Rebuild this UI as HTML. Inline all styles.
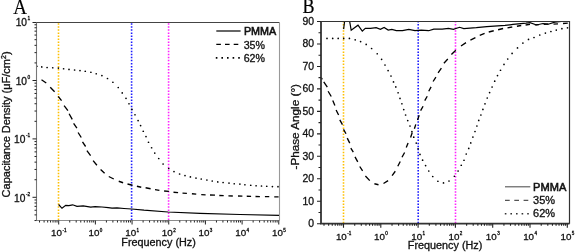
<!DOCTYPE html><html><head><meta charset="utf-8"><style>html,body{margin:0;padding:0;background:#fff;}svg{display:block;will-change:transform;}text{font-family:"Liberation Sans", sans-serif;fill:#111;stroke:#111;stroke-width:0.3px;}</style></head><body>
<svg width="575" height="252" viewBox="0 0 575 252">
<rect width="575" height="252" fill="#fff"/>
<defs><clipPath id="ca"><rect x="36.5" y="22.5" width="243.0" height="198.0"/></clipPath><clipPath id="cb"><rect x="321.0" y="21.5" width="248.5" height="202.2"/></clipPath></defs>
<text transform="translate(13.3,13.6) scale(0.95,1)" style="font-family:'Liberation Serif', serif;font-size:20px;fill:#000;stroke:#000;stroke-width:0.2px">A</text>
<line x1="58.50" y1="23.25" x2="58.50" y2="220.20" stroke="#ffc000" stroke-width="1.6" stroke-dasharray="1.5 1.552" fill="none"/>
<line x1="131.60" y1="23.25" x2="131.60" y2="220.20" stroke="#1a1aff" stroke-width="1.6" stroke-dasharray="1.5 1.552" fill="none"/>
<line x1="168.60" y1="23.25" x2="168.60" y2="220.20" stroke="#ff22ff" stroke-width="1.6" stroke-dasharray="1.5 1.552" fill="none"/>
<g clip-path="url(#ca)" fill="none" stroke="#000">
<path d="M58.60,204.50 L62.00,208.30 L65.70,205.40 L68.90,205.70 L72.60,204.80 L77.00,206.40 L83.20,205.80 L90.70,207.10 L95.10,206.70 L102.00,207.00 L108.20,207.60 L112.00,208.10 L117.00,207.90 L124.00,208.50 L131.70,209.00 L144.00,210.20 L168.00,212.00 L200.00,213.30 L240.00,214.50 L279.50,215.30" stroke-width="1.2"/>
<path d="M41.50,79.75 L46.25,83.00 M50.25,87.25 L54.60,91.75 M58.20,96.30 L61.55,100.70 M64.10,105.60 L67.90,110.60 M69.10,113.75 L72.25,119.40 M73.60,123.40 L76.90,128.10 M78.10,132.50 L81.25,137.50 M82.50,141.90 L85.60,146.50 M86.90,150.60 L90.60,155.60 M93.10,160.60 L96.90,165.25 M100.60,169.40 L104.60,173.20 M108.75,176.50 L113.75,179.00 M118.75,181.25 L123.10,182.75 M127.50,184.00 L132.50,185.25 M136.90,186.25 L141.25,187.25 M145.60,187.75 L150.60,188.75 M155.00,189.60 L159.40,190.40 M164.10,191.00 L168.90,191.40 M173.50,192.25 L178.10,192.60 M182.50,193.10 L186.90,193.40 M191.90,193.75 L196.25,194.10 M201.25,194.60 L205.60,194.80 M210.00,195.00 L215.00,195.20 M219.30,195.50 L223.70,195.60 M228.40,195.90 L232.80,196.00 M238.00,196.00 L242.40,196.10 M246.75,196.25 L251.10,196.30 M255.50,196.50 L259.90,196.60 M264.90,196.60 L269.25,196.70 M274.25,196.90 L278.60,196.90" stroke-width="1.35"/>
<g fill="#000" stroke="none"><circle cx="36.90" cy="66.25" r="0.85"/><circle cx="41.75" cy="66.90" r="0.85"/><circle cx="47.10" cy="67.50" r="0.85"/><circle cx="52.75" cy="67.75" r="0.85"/><circle cx="58.40" cy="68.10" r="0.85"/><circle cx="63.60" cy="68.75" r="0.85"/><circle cx="69.00" cy="69.40" r="0.85"/><circle cx="74.60" cy="70.00" r="0.85"/><circle cx="80.00" cy="70.60" r="0.85"/><circle cx="85.25" cy="71.25" r="0.85"/><circle cx="90.90" cy="72.25" r="0.85"/><circle cx="96.25" cy="73.75" r="0.85"/><circle cx="101.90" cy="75.60" r="0.85"/><circle cx="107.50" cy="78.50" r="0.85"/><circle cx="112.90" cy="82.25" r="0.85"/><circle cx="118.25" cy="87.50" r="0.85"/><circle cx="122.25" cy="92.90" r="0.85"/><circle cx="126.00" cy="98.30" r="0.85"/><circle cx="129.00" cy="103.75" r="0.85"/><circle cx="131.90" cy="109.40" r="0.85"/><circle cx="135.00" cy="114.75" r="0.85"/><circle cx="138.10" cy="120.60" r="0.85"/><circle cx="140.60" cy="125.60" r="0.85"/><circle cx="143.25" cy="131.25" r="0.85"/><circle cx="146.00" cy="136.60" r="0.85"/><circle cx="148.50" cy="142.25" r="0.85"/><circle cx="151.60" cy="147.75" r="0.85"/><circle cx="154.75" cy="153.10" r="0.85"/><circle cx="158.75" cy="158.50" r="0.85"/><circle cx="163.10" cy="164.00" r="0.85"/><circle cx="168.75" cy="168.50" r="0.85"/><circle cx="174.00" cy="171.55" r="0.85"/><circle cx="179.60" cy="174.00" r="0.85"/><circle cx="185.00" cy="175.60" r="0.85"/><circle cx="190.40" cy="176.90" r="0.85"/><circle cx="196.00" cy="178.10" r="0.85"/><circle cx="201.25" cy="179.00" r="0.85"/><circle cx="206.90" cy="180.00" r="0.85"/><circle cx="212.25" cy="181.00" r="0.85"/><circle cx="217.75" cy="181.90" r="0.85"/><circle cx="223.10" cy="182.50" r="0.85"/><circle cx="229.00" cy="183.10" r="0.85"/><circle cx="234.25" cy="183.75" r="0.85"/><circle cx="239.90" cy="184.10" r="0.85"/><circle cx="244.90" cy="184.75" r="0.85"/><circle cx="250.75" cy="185.25" r="0.85"/><circle cx="256.10" cy="185.75" r="0.85"/><circle cx="261.50" cy="186.00" r="0.85"/><circle cx="266.75" cy="186.25" r="0.85"/><circle cx="272.40" cy="186.60" r="0.85"/><circle cx="278.00" cy="186.70" r="0.85"/></g>
</g>
<line x1="36.5" y1="22.5" x2="279.5" y2="22.5" stroke="#444" stroke-width="1"/>
<line x1="279.5" y1="22.5" x2="279.5" y2="220.5" stroke="#999" stroke-width="1.1"/>
<line x1="36.5" y1="220.5" x2="279.5" y2="220.5" stroke="#8c8c8c" stroke-width="1"/>
<line x1="36.5" y1="22.5" x2="36.5" y2="220.5" stroke="#777" stroke-width="1.1"/>
<path d="M39.52,220.50v2.0M44.10,220.50v2.0M47.66,220.50v2.0M50.56,220.50v2.0M53.02,220.50v2.0M55.15,220.50v2.0M57.02,220.50v2.0M58.70,220.50v4.0M69.74,220.50v2.0M76.20,220.50v2.0M80.78,220.50v2.0M84.34,220.50v2.0M87.24,220.50v2.0M89.70,220.50v2.0M91.83,220.50v2.0M93.70,220.50v2.0M95.38,220.50v4.0M106.42,220.50v2.0M112.88,220.50v2.0M117.46,220.50v2.0M121.02,220.50v2.0M123.92,220.50v2.0M126.38,220.50v2.0M128.51,220.50v2.0M130.38,220.50v2.0M132.06,220.50v4.0M143.10,220.50v2.0M149.56,220.50v2.0M154.14,220.50v2.0M157.70,220.50v2.0M160.60,220.50v2.0M163.06,220.50v2.0M165.19,220.50v2.0M167.06,220.50v2.0M168.74,220.50v4.0M179.78,220.50v2.0M186.24,220.50v2.0M190.82,220.50v2.0M194.38,220.50v2.0M197.28,220.50v2.0M199.74,220.50v2.0M201.87,220.50v2.0M203.74,220.50v2.0M205.42,220.50v4.0M216.46,220.50v2.0M222.92,220.50v2.0M227.50,220.50v2.0M231.06,220.50v2.0M233.96,220.50v2.0M236.42,220.50v2.0M238.55,220.50v2.0M240.42,220.50v2.0M242.10,220.50v4.0M253.14,220.50v2.0M259.60,220.50v2.0M264.18,220.50v2.0M267.74,220.50v2.0M270.64,220.50v2.0M273.10,220.50v2.0M275.23,220.50v2.0M277.10,220.50v2.0M278.78,220.50v4.0M36.50,220.54h-2.0M36.50,214.88h-2.0M36.50,210.26h-2.0M36.50,206.35h-2.0M36.50,202.96h-2.0M36.50,199.97h-2.0M36.50,197.30h-4.0M36.50,179.72h-2.0M36.50,169.44h-2.0M36.50,162.14h-2.0M36.50,156.48h-2.0M36.50,151.86h-2.0M36.50,147.95h-2.0M36.50,144.56h-2.0M36.50,141.57h-2.0M36.50,138.90h-4.0M36.50,121.32h-2.0M36.50,111.04h-2.0M36.50,103.74h-2.0M36.50,98.08h-2.0M36.50,93.46h-2.0M36.50,89.55h-2.0M36.50,86.16h-2.0M36.50,83.17h-2.0M36.50,80.50h-4.0M36.50,62.92h-2.0M36.50,52.64h-2.0M36.50,45.34h-2.0M36.50,39.68h-2.0M36.50,35.06h-2.0M36.50,31.15h-2.0M36.50,27.76h-2.0M36.50,24.77h-2.0M36.50,22.50h-4.0" stroke="#222" stroke-width="1" fill="none"/>
<text x="58.8" y="236.2" text-anchor="middle" style="font-size:9.8px">10<tspan dx="0.4" dy="-3.8" style="font-size:4.6px">-1</tspan></text>
<text x="95.5" y="236.2" text-anchor="middle" style="font-size:9.8px">10<tspan dx="0.4" dy="-3.8" style="font-size:4.6px">0</tspan></text>
<text x="132.2" y="236.2" text-anchor="middle" style="font-size:9.8px">10<tspan dx="0.4" dy="-3.8" style="font-size:4.6px">1</tspan></text>
<text x="168.8" y="236.2" text-anchor="middle" style="font-size:9.8px">10<tspan dx="0.4" dy="-3.8" style="font-size:4.6px">2</tspan></text>
<text x="205.5" y="236.2" text-anchor="middle" style="font-size:9.8px">10<tspan dx="0.4" dy="-3.8" style="font-size:4.6px">3</tspan></text>
<text x="242.2" y="236.2" text-anchor="middle" style="font-size:9.8px">10<tspan dx="0.4" dy="-3.8" style="font-size:4.6px">4</tspan></text>
<text x="278.9" y="236.2" text-anchor="middle" style="font-size:9.8px">10<tspan dx="0.4" dy="-3.8" style="font-size:4.6px">5</tspan></text>
<text x="30.2" y="26.2" text-anchor="end" style="font-size:10.2px">10<tspan dx="0.5" dy="-6.0" style="font-size:4.8px">1</tspan></text>
<text x="30.2" y="84.7" text-anchor="end" style="font-size:10.2px">10<tspan dx="0.5" dy="-6.0" style="font-size:4.8px">0</tspan></text>
<text x="30.2" y="143.0" text-anchor="end" style="font-size:10.2px">10<tspan dx="0.5" dy="-6.0" style="font-size:4.8px">-1</tspan></text>
<text x="30.2" y="201.5" text-anchor="end" style="font-size:10.2px">10<tspan dx="0.5" dy="-6.0" style="font-size:4.8px">-2</tspan></text>
<text x="121.3" y="245.5" style="font-size:10px" textLength="74.5" lengthAdjust="spacingAndGlyphs">Frequency (Hz)</text>
<text transform="translate(10,197.4) rotate(-90)" style="font-size:10px" textLength="146" lengthAdjust="spacingAndGlyphs">Capacitance Density (μF/cm<tspan dy="-4.3" style="font-size:6.3px">2</tspan><tspan dy="4.3">)</tspan></text>
<line x1="216.3" y1="31" x2="240.6" y2="31" stroke="#000" stroke-width="1.2"/>
<line x1="216.3" y1="44.3" x2="240.6" y2="44.3" stroke="#000" stroke-width="1.2" stroke-dasharray="4.6 4.1"/>
<line x1="215.8" y1="57.9" x2="240.6" y2="57.9" stroke="#000" stroke-width="1.6" stroke-dasharray="1.6 4"/>
<text x="243.9" y="34.7" style="font-size:10px;stroke-width:0.55px" textLength="32.3" lengthAdjust="spacingAndGlyphs">PMMA</text>
<text x="243.7" y="48.7" style="font-size:10px" textLength="21.3" lengthAdjust="spacingAndGlyphs">35%</text>
<text x="243.7" y="62.0" style="font-size:10px" textLength="21.3" lengthAdjust="spacingAndGlyphs">62%</text>
<text transform="translate(302.4,13.3) scale(0.9,1)" style="font-family:'Liberation Serif', serif;font-size:20px;fill:#000;stroke:#000;stroke-width:0.2px">B</text>
<line x1="343.50" y1="21.05" x2="343.50" y2="223.30" stroke="#ffc000" stroke-width="1.6" stroke-dasharray="1.5 1.54" fill="none"/>
<line x1="418.20" y1="21.05" x2="418.20" y2="223.30" stroke="#1a1aff" stroke-width="1.6" stroke-dasharray="1.5 1.54" fill="none"/>
<line x1="455.50" y1="21.05" x2="455.50" y2="223.30" stroke="#ff22ff" stroke-width="1.6" stroke-dasharray="1.5 1.54" fill="none"/>
<g clip-path="url(#cb)" fill="none" stroke="#000">
<path d="M343.60,29.20 L344.60,21.50 L345.20,17.00 L348.90,17.00 L351.20,30.30 L358.00,25.20 L362.30,31.20 L365.30,28.40 L370.50,28.40 L376.20,27.70 L380.40,29.40 L384.10,27.50 L388.20,30.10 L391.90,29.40 L396.30,30.70 L402.50,30.70 L408.80,29.40 L415.00,30.70 L421.30,30.10 L428.60,30.70 L433.80,29.10 L442.20,29.10 L448.50,28.40 L453.40,29.40 L459.60,27.30 L463.80,28.60 L476.30,27.70 L486.80,26.70 L505.00,25.40 L513.00,24.40 L526.00,23.10 L530.00,22.60 L536.50,25.00 L543.00,23.50 L548.20,24.20 L554.80,22.20 L561.30,21.50 L569.50,21.30" stroke-width="1.2"/>
<path d="M321.20,77.60 L322.30,79.40 M323.75,81.90 L327.30,87.10 M328.10,91.25 L331.25,96.50 M332.75,100.60 L334.90,105.60 M336.10,110.00 L338.60,115.00 M339.80,119.90 L342.45,124.70 M343.50,129.40 L346.00,133.75 M347.25,138.10 L349.75,143.10 M350.80,148.10 L353.30,152.20 M355.00,156.90 L357.75,161.90 M359.75,166.50 L362.60,170.90 M365.40,176.00 L369.75,180.60 M374.40,183.75 L378.50,184.75 M383.50,183.50 L388.10,180.60 M392.10,175.60 L395.30,171.25 M397.80,166.25 L400.25,161.50 M402.00,157.30 L404.60,152.50 M406.25,147.50 L408.10,143.10 M410.60,137.50 L412.25,132.50 M414.40,128.75 L415.80,124.40 M417.50,120.00 L419.20,115.20 M420.60,110.60 L423.10,106.25 M424.75,100.60 L427.25,96.25 M428.75,91.25 L431.10,86.90 M433.10,81.50 L435.90,77.20 M438.10,72.80 L441.40,68.10 M443.90,63.20 L447.80,59.00 M451.40,54.60 L455.80,50.20 M461.00,46.00 L466.00,42.60 M470.40,40.10 L475.40,37.60 M479.75,35.30 L484.60,33.40 M488.75,32.00 L493.75,30.75 M498.10,29.75 L503.10,28.50 M507.50,27.90 L512.25,27.00 M516.90,26.25 L521.25,25.50 M525.60,25.00 L530.00,24.40 M534.80,24.80 L539.00,24.60 M543.75,24.40 L548.40,24.10 M553.50,24.20 L558.00,23.90 M563.00,23.50 L567.80,23.20" stroke-width="1.35"/>
<g fill="#000" stroke="none"><circle cx="327.00" cy="38.40" r="0.85"/><circle cx="332.70" cy="38.40" r="0.85"/><circle cx="338.20" cy="38.40" r="0.85"/><circle cx="343.70" cy="38.40" r="0.85"/><circle cx="349.40" cy="38.40" r="0.85"/><circle cx="355.20" cy="39.80" r="0.85"/><circle cx="360.60" cy="41.60" r="0.85"/><circle cx="366.20" cy="44.40" r="0.85"/><circle cx="371.60" cy="48.50" r="0.85"/><circle cx="377.25" cy="53.75" r="0.85"/><circle cx="381.60" cy="59.30" r="0.85"/><circle cx="385.00" cy="65.00" r="0.85"/><circle cx="388.10" cy="70.60" r="0.85"/><circle cx="391.00" cy="76.00" r="0.85"/><circle cx="393.50" cy="81.90" r="0.85"/><circle cx="395.80" cy="86.90" r="0.85"/><circle cx="398.10" cy="92.75" r="0.85"/><circle cx="400.00" cy="98.40" r="0.85"/><circle cx="401.90" cy="103.75" r="0.85"/><circle cx="403.75" cy="109.60" r="0.85"/><circle cx="405.60" cy="115.00" r="0.85"/><circle cx="407.75" cy="120.60" r="0.85"/><circle cx="410.00" cy="126.00" r="0.85"/><circle cx="411.90" cy="131.60" r="0.85"/><circle cx="413.75" cy="137.20" r="0.85"/><circle cx="416.25" cy="143.10" r="0.85"/><circle cx="418.10" cy="148.75" r="0.85"/><circle cx="420.00" cy="154.40" r="0.85"/><circle cx="422.60" cy="160.20" r="0.85"/><circle cx="425.60" cy="165.60" r="0.85"/><circle cx="428.75" cy="171.00" r="0.85"/><circle cx="432.75" cy="176.50" r="0.85"/><circle cx="437.90" cy="181.25" r="0.85"/><circle cx="443.50" cy="182.90" r="0.85"/><circle cx="449.00" cy="181.00" r="0.85"/><circle cx="454.40" cy="176.25" r="0.85"/><circle cx="458.10" cy="171.00" r="0.85"/><circle cx="461.25" cy="165.25" r="0.85"/><circle cx="464.00" cy="160.25" r="0.85"/><circle cx="466.25" cy="154.00" r="0.85"/><circle cx="468.75" cy="148.40" r="0.85"/><circle cx="470.75" cy="142.90" r="0.85"/><circle cx="472.90" cy="137.10" r="0.85"/><circle cx="475.00" cy="131.50" r="0.85"/><circle cx="476.90" cy="126.00" r="0.85"/><circle cx="478.75" cy="120.40" r="0.85"/><circle cx="480.90" cy="115.00" r="0.85"/><circle cx="482.90" cy="109.40" r="0.85"/><circle cx="485.00" cy="103.80" r="0.85"/><circle cx="487.25" cy="98.00" r="0.85"/><circle cx="489.60" cy="92.60" r="0.85"/><circle cx="492.10" cy="87.00" r="0.85"/><circle cx="494.70" cy="81.20" r="0.85"/><circle cx="497.50" cy="75.60" r="0.85"/><circle cx="500.50" cy="70.25" r="0.85"/><circle cx="504.00" cy="64.40" r="0.85"/><circle cx="507.70" cy="59.00" r="0.85"/><circle cx="512.10" cy="53.40" r="0.85"/><circle cx="517.50" cy="47.90" r="0.85"/><circle cx="522.90" cy="43.10" r="0.85"/><circle cx="528.50" cy="39.40" r="0.85"/><circle cx="534.00" cy="37.50" r="0.85"/><circle cx="539.75" cy="35.00" r="0.85"/><circle cx="545.40" cy="33.10" r="0.85"/><circle cx="550.90" cy="31.50" r="0.85"/><circle cx="556.30" cy="30.10" r="0.85"/><circle cx="561.90" cy="28.70" r="0.85"/><circle cx="567.50" cy="27.80" r="0.85"/></g>
</g>
<path d="M321.0,21.5H569.5V223.7" stroke="#333" stroke-width="1.2" fill="none"/>
<path d="M321.0,21.5V223.7H569.5" stroke="#333" stroke-width="1.8" fill="none"/>
<path d="M324.00,223.70v2.0M328.66,223.70v2.0M332.27,223.70v2.0M335.23,223.70v2.0M337.72,223.70v2.0M339.89,223.70v2.0M341.79,223.70v2.0M343.50,223.70v4.0M354.73,223.70v2.0M361.30,223.70v2.0M365.96,223.70v2.0M369.57,223.70v2.0M372.53,223.70v2.0M375.02,223.70v2.0M377.19,223.70v2.0M379.09,223.70v2.0M380.80,223.70v4.0M392.03,223.70v2.0M398.60,223.70v2.0M403.26,223.70v2.0M406.87,223.70v2.0M409.83,223.70v2.0M412.32,223.70v2.0M414.49,223.70v2.0M416.39,223.70v2.0M418.10,223.70v4.0M429.33,223.70v2.0M435.90,223.70v2.0M440.56,223.70v2.0M444.17,223.70v2.0M447.13,223.70v2.0M449.62,223.70v2.0M451.79,223.70v2.0M453.69,223.70v2.0M455.40,223.70v4.0M466.63,223.70v2.0M473.20,223.70v2.0M477.86,223.70v2.0M481.47,223.70v2.0M484.43,223.70v2.0M486.92,223.70v2.0M489.09,223.70v2.0M490.99,223.70v2.0M492.70,223.70v4.0M503.93,223.70v2.0M510.50,223.70v2.0M515.16,223.70v2.0M518.77,223.70v2.0M521.73,223.70v2.0M524.22,223.70v2.0M526.39,223.70v2.0M528.29,223.70v2.0M530.00,223.70v4.0M541.23,223.70v2.0M547.80,223.70v2.0M552.46,223.70v2.0M556.07,223.70v2.0M559.03,223.70v2.0M561.52,223.70v2.0M563.69,223.70v2.0M565.59,223.70v2.0M567.30,223.70v4.0M321.00,223.70h-4.0M321.00,212.47h-2.5M321.00,201.23h-4.0M321.00,190.00h-2.5M321.00,178.77h-4.0M321.00,167.53h-2.5M321.00,156.30h-4.0M321.00,145.07h-2.5M321.00,133.83h-4.0M321.00,122.60h-2.5M321.00,111.36h-4.0M321.00,100.13h-2.5M321.00,88.90h-4.0M321.00,77.66h-2.5M321.00,66.43h-4.0M321.00,55.20h-2.5M321.00,43.96h-4.0M321.00,32.73h-2.5M321.00,21.50h-4.0" stroke="#222" stroke-width="1.1" fill="none"/>
<text x="343.6" y="239.9" text-anchor="middle" style="font-size:9.8px">10<tspan dx="0.4" dy="-4.7" style="font-size:4.6px">-1</tspan></text>
<text x="380.9" y="239.9" text-anchor="middle" style="font-size:9.8px">10<tspan dx="0.4" dy="-4.7" style="font-size:4.6px">0</tspan></text>
<text x="418.2" y="239.9" text-anchor="middle" style="font-size:9.8px">10<tspan dx="0.4" dy="-4.7" style="font-size:4.6px">1</tspan></text>
<text x="455.5" y="239.9" text-anchor="middle" style="font-size:9.8px">10<tspan dx="0.4" dy="-4.7" style="font-size:4.6px">2</tspan></text>
<text x="492.8" y="239.9" text-anchor="middle" style="font-size:9.8px">10<tspan dx="0.4" dy="-4.7" style="font-size:4.6px">3</tspan></text>
<text x="530.1" y="239.9" text-anchor="middle" style="font-size:9.8px">10<tspan dx="0.4" dy="-4.7" style="font-size:4.6px">4</tspan></text>
<text x="567.4" y="239.9" text-anchor="middle" style="font-size:9.8px">10<tspan dx="0.4" dy="-4.7" style="font-size:4.6px">5</tspan></text>
<text x="314" y="227.1" text-anchor="end" style="font-size:10.4px">0</text>
<text x="314" y="204.6" text-anchor="end" style="font-size:10.4px">10</text>
<text x="314" y="182.2" text-anchor="end" style="font-size:10.4px">20</text>
<text x="314" y="159.7" text-anchor="end" style="font-size:10.4px">30</text>
<text x="314" y="137.2" text-anchor="end" style="font-size:10.4px">40</text>
<text x="314" y="114.8" text-anchor="end" style="font-size:10.4px">50</text>
<text x="314" y="92.3" text-anchor="end" style="font-size:10.4px">60</text>
<text x="314" y="69.8" text-anchor="end" style="font-size:10.4px">70</text>
<text x="314" y="47.4" text-anchor="end" style="font-size:10.4px">80</text>
<text x="314" y="24.9" text-anchor="end" style="font-size:10.4px">90</text>
<text x="407.8" y="248.7" style="font-size:10px" textLength="74.5" lengthAdjust="spacingAndGlyphs">Frequency (Hz)</text>
<text transform="translate(299.2,169.5) rotate(-90)" style="font-size:10px" textLength="85.5" lengthAdjust="spacingAndGlyphs">-Phase Angle (°)</text>
<line x1="505" y1="186.8" x2="530.3" y2="186.8" stroke="#555" stroke-width="1.1"/>
<line x1="505" y1="200.3" x2="530.3" y2="200.3" stroke="#555" stroke-width="1.2" stroke-dasharray="4.7 4.6"/>
<line x1="504.8" y1="213.8" x2="530.3" y2="213.8" stroke="#333" stroke-width="1.6" stroke-dasharray="1.6 4"/>
<text x="533.1" y="190.5" style="font-size:10px;stroke-width:0.5px" textLength="33.2" lengthAdjust="spacingAndGlyphs">PMMA</text>
<text x="533.1" y="204.4" style="font-size:10px" textLength="22" lengthAdjust="spacingAndGlyphs">35%</text>
<text x="533.1" y="217.4" style="font-size:10px" textLength="22" lengthAdjust="spacingAndGlyphs">62%</text>
</svg></body></html>
